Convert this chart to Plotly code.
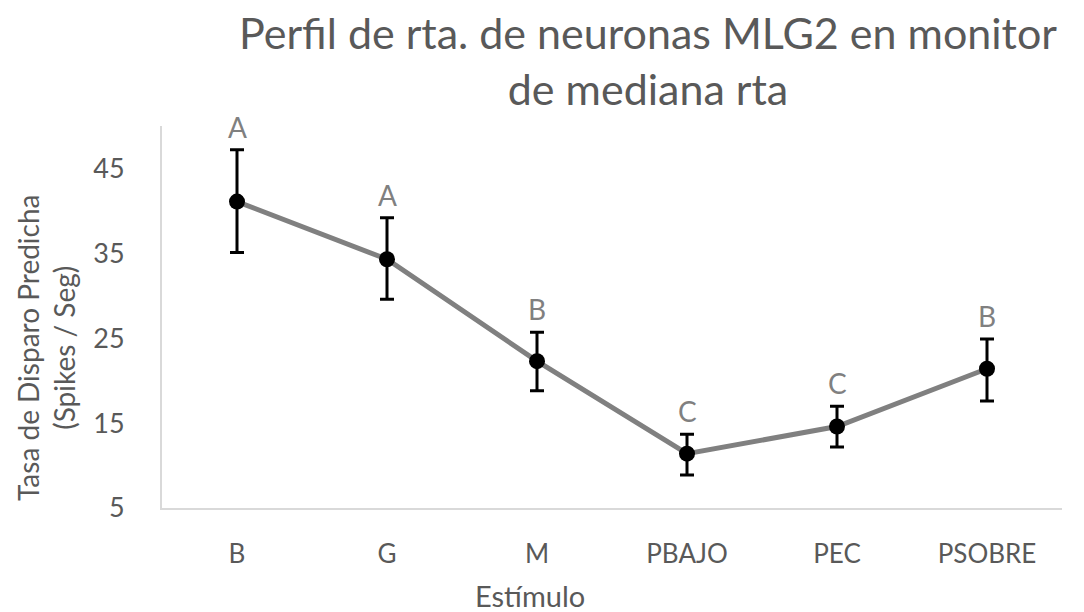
import plotly.graph_objects as go

categories = ["B", "G", "M", "PBAJO", "PEC", "PSOBRE"]
values = [41.1, 34.3, 22.3, 11.4, 14.6, 21.4]
err_plus = [6.1, 4.9, 3.4, 2.3, 2.4, 3.5]
err_minus = [6.0, 4.7, 3.5, 2.5, 2.4, 3.8]
letters = ["A", "A", "B", "C", "C", "B"]

FONT = "Lato"
GREY = "#595959"

fig = go.Figure()
fig.add_trace(go.Scatter(
    x=categories, y=values, mode="lines+markers",
    line=dict(color="#808080", width=5),
    marker=dict(color="black", size=16),
    error_y=dict(type="data", symmetric=False, array=err_plus, arrayminus=err_minus,
                 color="black", thickness=3, width=7),
    showlegend=False,
))

for c, v, e, l in zip(categories, values, err_plus, letters):
    fig.add_annotation(x=c, y=v + e, text=l, showarrow=False, yanchor="bottom",
                       yshift=4, font=dict(family=FONT, size=28, color="#808080"))

fig.add_annotation(xref="paper", yref="paper", x=(530-162)/900, y=-(595-508)/382,
                   text="Estímulo", showarrow=False, xanchor="center", yanchor="middle",
                   font=dict(family=FONT, size=29, color=GREY))
fig.add_annotation(xref="paper", yref="paper", x=-(162-46)/900, y=(508-348)/382,
                   text="Tasa de Disparo Predicha<br>(Spikes / Seg)", showarrow=False,
                   textangle=-90, xanchor="center", yanchor="middle",
                   font=dict(family=FONT, size=28, color=GREY))

fig.update_layout(
    width=1084, height=612,
    margin=dict(l=162, r=22, t=126, b=104),
    paper_bgcolor="white", plot_bgcolor="white",
    title=dict(text="Perfil de rta. de neuronas MLG2 en monitor<br>de mediana rta",
               x=648/1084, xanchor="center", y=1-49/612, yanchor="middle",
               font=dict(family=FONT, size=43, color=GREY)),
    font=dict(family=FONT, color=GREY),
)
fig.update_xaxes(showgrid=False, showline=True, linecolor="#d9d9d9", linewidth=2,
                 tickfont=dict(family=FONT, size=26, color=GREY), ticks="",
                 ticklabelstandoff=22, range=[-0.5, 5.5])
fig.update_yaxes(range=[5, 50], tick0=5, dtick=10, showgrid=False, showline=True,
                 linecolor="#d9d9d9", linewidth=2, zeroline=False, ticks="",
                 tickfont=dict(family=FONT, size=27, color=GREY), ticklabelstandoff=30)

fig.write_html("out.html")
